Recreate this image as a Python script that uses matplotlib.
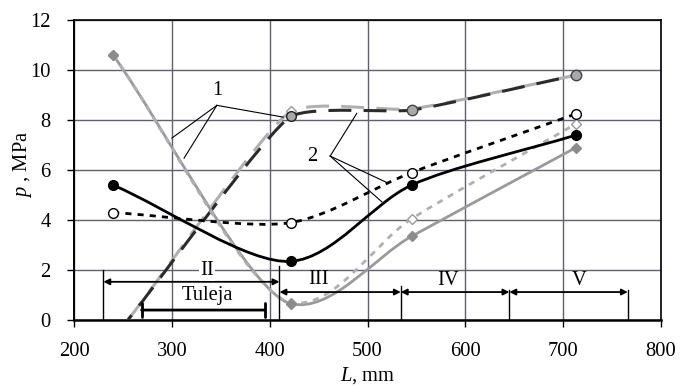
import numpy as np
import matplotlib
matplotlib.use('Agg')
import matplotlib.pyplot as plt
from matplotlib.path import Path
from matplotlib.patches import PathPatch

plt.rcParams['font.family'] = ['Liberation Serif', 'DejaVu Serif']
plt.rcParams['font.size'] = 14.8
plt.rcParams['mathtext.fontset'] = 'custom'
plt.rcParams['mathtext.it'] = 'Liberation Serif:italic'
plt.rcParams['mathtext.rm'] = 'Liberation Serif'

# measured points (L in mm, p in MPa)
L_pts = [240, 422, 545, 713]
p_solid_black = [5.4, 2.35, 5.4, 7.4]
p_dot_black = [4.3, 3.9, 5.9, 8.25]
L_dash = [255, 422, 545, 713]
p_dash_dark = [0.0, 8.15, 8.4, 9.8]
p_dash_gray = [0.0, 8.35, 8.45, 9.8]
p_solid_gray = [10.6, 0.65, 3.35, 6.9]
p_dot_gray = [10.6, 0.7, 4.05, 7.85]

# zone boundaries
zone_edges = [230, 410, 534, 645, 766]
zone_names = ['II', 'III', 'IV', 'V']
tuleja = [269, 395]


def smooth_path(ax, xs, ys, k=0.3):
    # rounded line through the points, built in screen space like a spreadsheet
    pts = ax.transData.transform(np.column_stack([xs, ys]).astype(float))
    n = len(pts)
    tang = []
    for i in range(n):
        if i == 0:
            d = pts[1] - pts[0]
        elif i == n - 1:
            d = pts[-1] - pts[-2]
        else:
            a = pts[i] - pts[i - 1]
            b = pts[i + 1] - pts[i]
            d = a / np.hypot(*a) + b / np.hypot(*b)
        tang.append(d / np.hypot(*d))
    seg = [np.hypot(*(pts[i + 1] - pts[i])) for i in range(n - 1)]
    clen = []
    for i in range(n):
        if i == 0:
            clen.append(k * seg[0])
        elif i == n - 1:
            clen.append(k * seg[-1])
        else:
            clen.append(k * min(seg[i - 1], seg[i]))
    verts = [pts[0]]
    codes = [Path.MOVETO]
    for i in range(n - 1):
        verts += [pts[i] + tang[i] * clen[i],
                  pts[i + 1] - tang[i + 1] * clen[i + 1],
                  pts[i + 1]]
        codes += [Path.CURVE4] * 3
    verts = ax.transData.inverted().transform(np.array(verts))
    return Path(verts, codes)


def draw_curve(ax, xs, ys, color, lw, dashes=None, z=3, k=0.3):
    patch = PathPatch(smooth_path(ax, xs, ys, k), facecolor='none', edgecolor=color,
                      lw=lw, zorder=z, capstyle='butt')
    if dashes is not None:
        patch.set_linestyle(dashes)
    ax.add_patch(patch)


fig = plt.figure(figsize=(6.81, 3.87), dpi=100)
ax = fig.add_axes([0.1087, 0.173, 0.862, 0.775])
ax.set_xlim(200, 800)
ax.set_ylim(0, 12)
ax.set_xticks(range(200, 801, 100))
ax.set_yticks(range(0, 13, 2))
ax.grid(True, color='#5f6070', lw=1.0, zorder=0)
ax.tick_params(direction='out', length=5, width=1, colors='black')
ax.tick_params(axis='x', pad=11)
ax.tick_params(axis='y', pad=12)
for s in ax.spines.values():
    s.set_color('black')
    s.set_linewidth(1.2)
ax.spines['bottom'].set_linewidth(1.8)
ax.spines['left'].set_linewidth(1.4)

dark = '#2b2b2b'
gray = '#9a9a9a'
lgray = '#b0b0b0'

draw_curve(ax, L_dash, p_dash_gray, lgray, 2.2, (0, (7.5, 4)), z=3, k=0.22)
draw_curve(ax, L_dash, p_dash_dark, dark, 2.2, (5.5, (7.5, 4)), z=3, k=0.2)
draw_curve(ax, L_pts, p_solid_gray, gray, 2.0, None, z=3)
draw_curve(ax, L_pts, p_dot_gray, lgray, 2.0, (0, (2.2, 2.2)), z=3)
draw_curve(ax, L_pts, p_dot_black, 'black', 2.0, (0, (2.2, 2.2)), z=4)
draw_curve(ax, L_pts, p_solid_black, 'black', 2.0, None, z=4)

ax.plot(L_pts, p_solid_black, 'o', ms=7, mfc='black', mec='black', zorder=6)
ax.plot(L_pts, p_dot_black, 'o', ms=7, mfc='white', mec='black', mew=1, zorder=6)
ax.plot(L_dash[2:], p_dash_dark[2:], 'o', ms=7.5, mfc='#a8a8a8', mec='#444444', mew=1, zorder=6)
ax.plot(L_dash[1:2], p_dash_dark[1:2], 'o', ms=7, mfc='#a8a8a8', mec='#222222', mew=1, zorder=6)
ax.plot(L_dash[1:2], p_dash_gray[1:2], 'D', ms=5.5, mfc='white', mec=gray, mew=1, zorder=5)
ax.plot(L_pts, p_solid_gray, 'D', ms=5.5, mfc='#8c8c8c', mec='#8c8c8c', zorder=6)
ax.plot(L_pts, p_dot_gray, 'D', ms=5.5, mfc='white', mec=gray, mew=1, zorder=5)

# leader lines for the curve labels
ax.text(346, 9.2, '1', ha='center', va='center', zorder=7)
for ex, ey in [(300, 7.28), (312.5, 6.48), (413.7, 8.12)]:
    ax.plot([346, ex], [8.59, ey], color='black', lw=0.8, zorder=7)
ax.text(444, 6.53, '2', ha='center', va='center', zorder=7)
for ex, ey in [(489, 8.27), (521, 5.48), (514.6, 4.73)]:
    ax.plot([461.8, ex], [6.56, ey], color='black', lw=0.8, zorder=7)

# zones along the bush
arrow_kw = dict(arrowstyle='<|-|>', color='black', lw=1.3,
                mutation_scale=9, shrinkA=0, shrinkB=0)
vtops = [2.0, 2.15, 1.37, 1.2, 1.2]
for x, top in zip(zone_edges, vtops):
    ax.plot([x, x], [0, top], color='black', lw=1.0, zorder=5)
ax.annotate('', xy=(zone_edges[0], 1.53), xytext=(zone_edges[1], 1.53),
            arrowprops=arrow_kw, zorder=5)
ax.text(336, 2.0, zone_names[0], ha='center', va='center', zorder=6,
        bbox=dict(facecolor='white', edgecolor='none', pad=1.0))
ylev = 1.12
for i in range(1, 4):
    ax.annotate('', xy=(zone_edges[i], ylev), xytext=(zone_edges[i + 1], ylev),
                arrowprops=arrow_kw, zorder=5)
ax.text(450, 1.62, zone_names[1], ha='center', va='center', zorder=6)
ax.text(582, 1.6, zone_names[2], ha='center', va='center', zorder=6)
ax.text(716, 1.6, zone_names[3], ha='center', va='center', zorder=6)

ax.annotate('', xy=(tuleja[0], 0.4), xytext=(tuleja[1], 0.4),
            arrowprops=dict(arrowstyle='|-|', color='black', lw=2.0,
                            mutation_scale=5, shrinkA=0, shrinkB=0), zorder=5)
ax.text(336, 0.98, 'Tuleja', ha='center', va='center', zorder=6)

ax.set_xlabel('$L$, mm')
ax.xaxis.set_label_coords(0.5, -0.15)
ax.set_ylabel('$p$ , MPa')
ax.yaxis.set_label_coords(-0.068, 0.52)

fig.savefig('out.png', dpi=100)
